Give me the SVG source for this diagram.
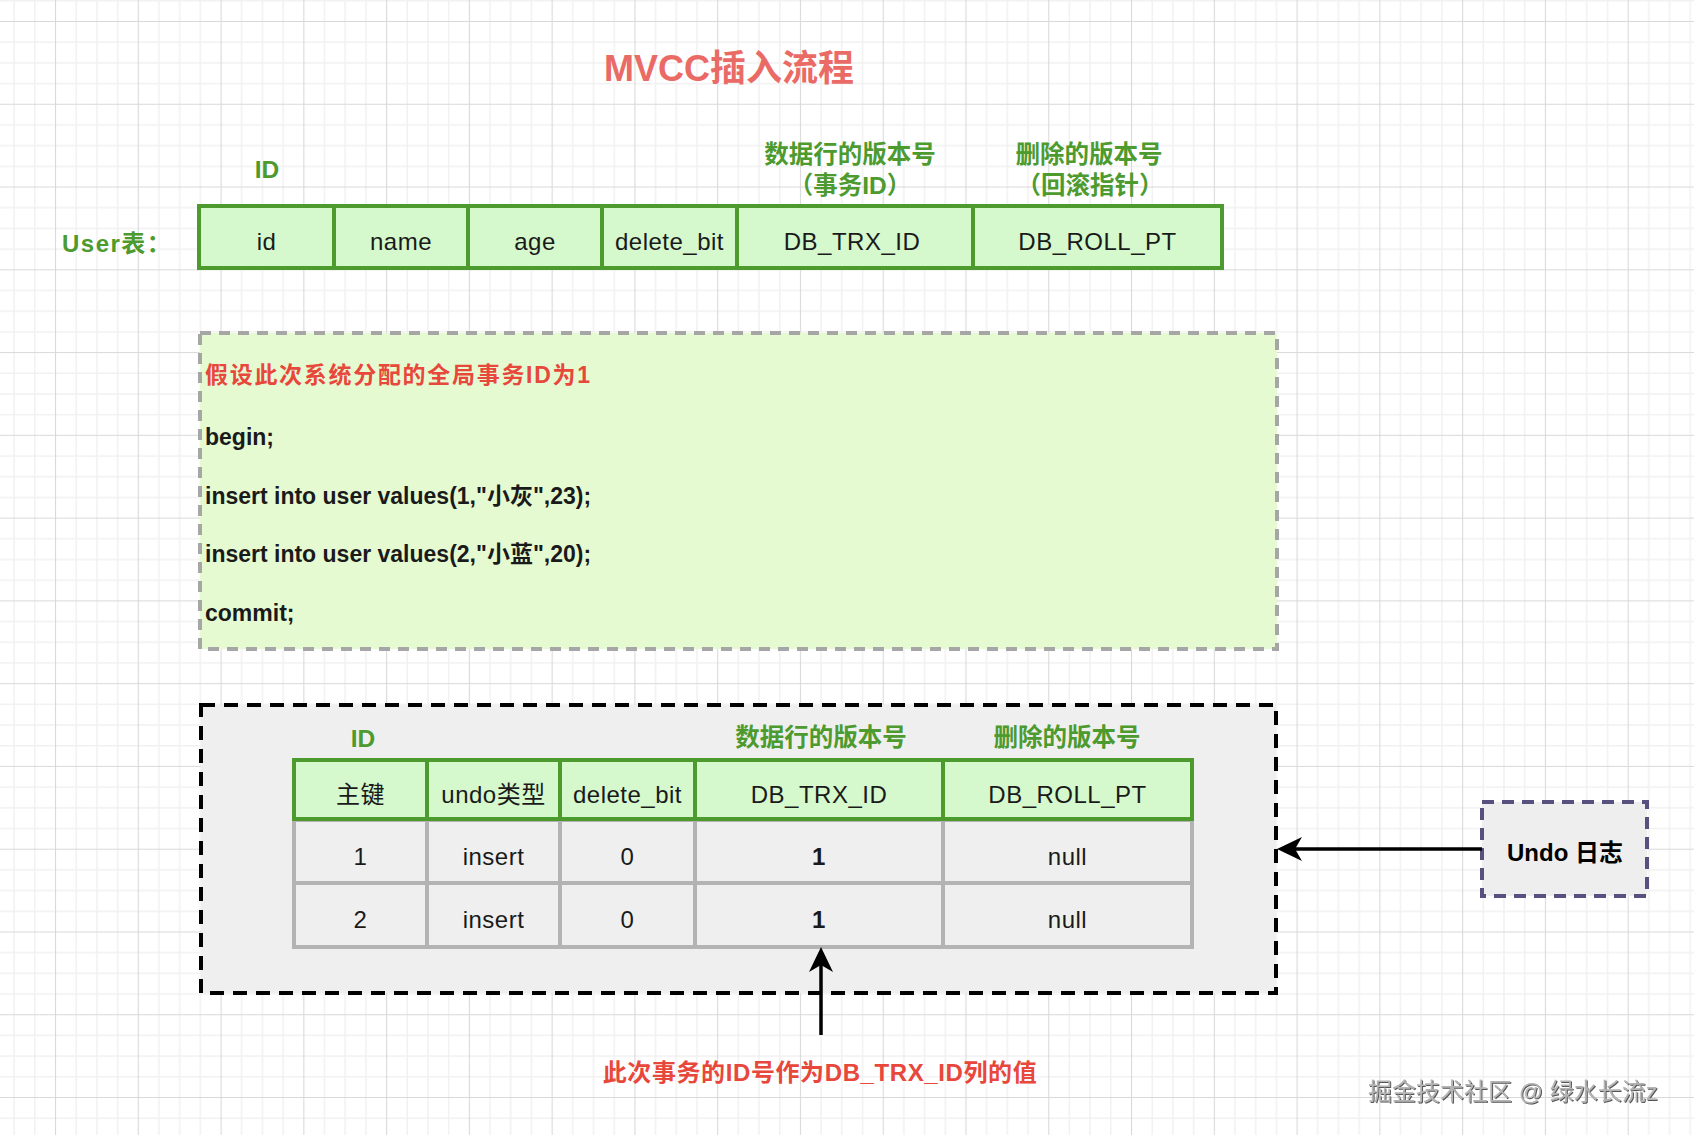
<svg xmlns="http://www.w3.org/2000/svg" width="1694" height="1135" viewBox="0 0 1694 1135">
<defs>
<pattern id="grid" x="55" y="21" width="82.77" height="82.77" patternUnits="userSpaceOnUse">
<path d="M0,21.19 H82.77 M0,41.88 H82.77 M0,62.58 H82.77 M21.19,0 V82.77 M41.88,0 V82.77 M62.58,0 V82.77" stroke="#f1f1f1" stroke-width="1.5" fill="none"/>
<path d="M0,0.5 H82.77 M0.5,0 V82.77" stroke="#d9d9d9" stroke-width="1.2" fill="none"/>
</pattern>
<marker id="arrow" markerUnits="userSpaceOnUse" markerWidth="26" markerHeight="26" viewBox="0 0 26 26" refX="7" refY="12" orient="auto">
<path d="M25,12 L0,0 L7,12 L0,24 Z" fill="#000"/>
</marker>
<filter id="emboss" x="-5%" y="-20%" width="110%" height="140%"><feDropShadow dx="1" dy="1" stdDeviation="0.6" flood-color="#555"/></filter>
<style>
text { font-family: "Liberation Sans", "Noto Sans CJK SC", sans-serif; }
.cell { font-size: 24px; fill: #1a1a1a; text-anchor: middle; letter-spacing: 0.5px; }
.glabel { font-size: 24.5px; font-weight: bold; fill: #4d9a2e; text-anchor: middle; }
.hdr { fill: #d5f8cc; stroke: #4d9a2e; stroke-width: 4; }
.row { fill: #efefef; stroke: #b3b3b3; stroke-width: 4; }
.code { font-size: 23px; font-weight: bold; fill: #1a1a1a; }
.red { fill: #e8473b; font-weight: bold; }
.conn { stroke: #000; stroke-width: 3.5; fill: none; marker-end: url(#arrow); }
</style>
</defs>
<rect x="0" y="0" width="1694" height="1135" fill="#ffffff"/>
<rect x="0" y="0" width="1694" height="1135" fill="url(#grid)"/>

<g id="title">
<text x="729" y="81" text-anchor="middle" font-size="36" font-weight="bold" fill="#ea6b66">MVCC插入流程</text>
</g>

<g id="user-label">
<text x="62" y="252" font-size="24" font-weight="bold" fill="#4d9a2e" letter-spacing="1.5">User表：</text>
</g>

<g id="user-col-labels">
<text class="glabel" x="267" y="178">ID</text>
<text class="glabel" x="850" y="163">数据行的版本号</text>
<text class="glabel" x="850" y="194">（事务ID）</text>
<text class="glabel" x="1089" y="163">删除的版本号</text>
<text class="glabel" x="1090" y="194">（回滚指针）</text>
</g>

<g id="user-table">
<rect class="hdr" x="199" y="206" width="135" height="62"/>
<rect class="hdr" x="334" y="206" width="134" height="62"/>
<rect class="hdr" x="468" y="206" width="134" height="62"/>
<rect class="hdr" x="602" y="206" width="135" height="62"/>
<rect class="hdr" x="737" y="206" width="236" height="62"/>
<rect class="hdr" x="973" y="206" width="249" height="62"/>
<text class="cell" x="266.5" y="250">id</text>
<text class="cell" x="401" y="250">name</text>
<text class="cell" x="535" y="250">age</text>
<text class="cell" x="669.5" y="250">delete_bit</text>
<text class="cell" x="852" y="250">DB_TRX_ID</text>
<text class="cell" x="1097.5" y="250">DB_ROLL_PT</text>
</g>

<g id="sql-box">
<rect x="200" y="333" width="1077" height="316" fill="#e6fad2" stroke="#a6a6a6" stroke-width="4" stroke-dasharray="11 8"/>
<text class="code red" x="205" y="383" font-size="24" letter-spacing="1.7">假设此次系统分配的全局事务ID为1</text>
<text class="code" x="205" y="445">begin;</text>
<text class="code" x="205" y="504">insert into user values(1,"小灰",23);</text>
<text class="code" x="205" y="562">insert into user values(2,"小蓝",20);</text>
<text class="code" x="205" y="621">commit;</text>
</g>

<g id="undo-container">
<rect x="201" y="705" width="1075" height="288" fill="#efefef" stroke="#000" stroke-width="4" stroke-dasharray="14 9"/>
<text class="glabel" x="363" y="747">ID</text>
<text class="glabel" x="821" y="746">数据行的版本号</text>
<text class="glabel" x="1067" y="746">删除的版本号</text>
</g>

<g id="undo-table">
<rect class="row" x="294" y="820" width="133" height="63"/>
<rect class="row" x="427" y="820" width="133" height="63"/>
<rect class="row" x="560" y="820" width="135" height="63"/>
<rect class="row" x="695" y="820" width="248" height="63"/>
<rect class="row" x="943" y="820" width="249" height="63"/>
<rect class="row" x="294" y="883" width="133" height="64"/>
<rect class="row" x="427" y="883" width="133" height="64"/>
<rect class="row" x="560" y="883" width="135" height="64"/>
<rect class="row" x="695" y="883" width="248" height="64"/>
<rect class="row" x="943" y="883" width="249" height="64"/>
<rect class="hdr" x="294" y="760" width="133" height="59"/>
<rect class="hdr" x="427" y="760" width="133" height="59"/>
<rect class="hdr" x="560" y="760" width="135" height="59"/>
<rect class="hdr" x="695" y="760" width="248" height="59"/>
<rect class="hdr" x="943" y="760" width="249" height="59"/>
<text class="cell" x="360.5" y="803">主键</text>
<text class="cell" x="493.5" y="803">undo类型</text>
<text class="cell" x="627.5" y="803">delete_bit</text>
<text class="cell" x="819" y="803">DB_TRX_ID</text>
<text class="cell" x="1067.5" y="803">DB_ROLL_PT</text>
<text class="cell" x="360.5" y="865">1</text>
<text class="cell" x="493.5" y="865">insert</text>
<text class="cell" x="627.5" y="865">0</text>
<text class="cell" x="819" y="865" font-weight="bold">1</text>
<text class="cell" x="1067.5" y="865">null</text>
<text class="cell" x="360.5" y="928">2</text>
<text class="cell" x="493.5" y="928">insert</text>
<text class="cell" x="627.5" y="928">0</text>
<text class="cell" x="819" y="928" font-weight="bold">1</text>
<text class="cell" x="1067.5" y="928">null</text>
</g>

<g id="undo-log">
<rect x="1482" y="802" width="165" height="94" fill="#eeeeee" stroke="#56517e" stroke-width="4" stroke-dasharray="12 8"/>
<text x="1565" y="861" text-anchor="middle" font-size="24" font-weight="bold" fill="#000">Undo 日志</text>
</g>

<g id="note">
<text class="red" x="820" y="1081" text-anchor="middle" font-size="24" letter-spacing="0.6">此次事务的ID号作为DB_TRX_ID列的值</text>
</g>

<g id="connectors">
<line class="conn" x1="1482" y1="849" x2="1295" y2="849"/>
<line class="conn" x1="821" y1="1035" x2="821" y2="965"/>
</g>

<g id="watermark">
<text x="1368" y="1100" font-size="24" fill="#b4b4b4" filter="url(#emboss)">掘金技术社区 @ 绿水长流z</text>
</g>
</svg>
